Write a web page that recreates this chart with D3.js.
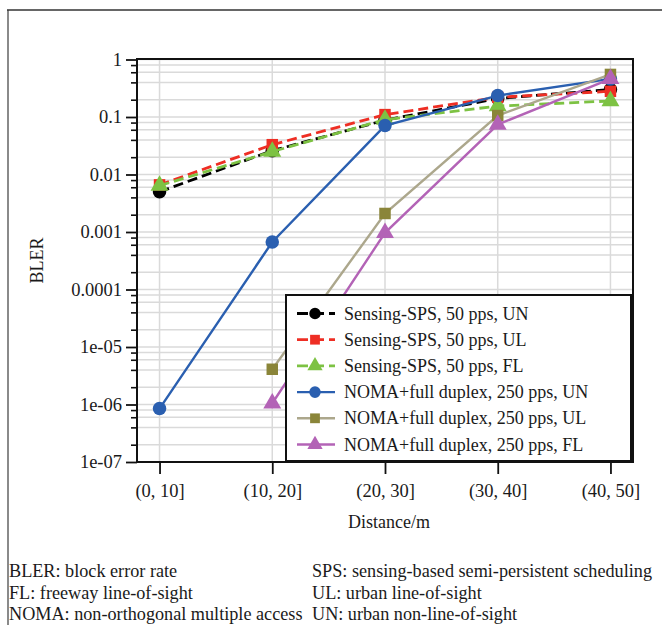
<!DOCTYPE html>
<html>
<head>
<meta charset="utf-8">
<script src="https://cdn.jsdelivr.net/npm/d3@7"></script>
</head>
<body style="margin:0;background:#fff">
<svg id="svgx" width="662" height="625"></svg>
<script>
// ---------------- data
const categories = ["(0, 10]", "(10, 20]", "(20, 30]", "(30, 40]", "(40, 50]"];
const yTickValues = [1, 0.1, 0.01, 0.001, 0.0001, 1e-5, 1e-6, 1e-7];
const yTickLabels = ["1", "0.1", "0.01", "0.001", "0.0001", "1e-05", "1e-06", "1e-07"];

const seriesNames = [
  "Sensing-SPS, 50 pps, UN",
  "Sensing-SPS, 50 pps, UL",
  "Sensing-SPS, 50 pps, FL",
  "NOMA+full duplex, 250 pps, UN",
  "NOMA+full duplex, 250 pps, UL",
  "NOMA+full duplex, 250 pps, FL"
];
// null = no point for that distance
const spsUN  = [0.0050, 0.026, 0.088, 0.21, 0.30];
const spsUL  = [0.0066, 0.033, 0.11, 0.22, 0.28];
const spsFL  = [0.0064, 0.025, 0.09, 0.155, 0.19];
const nomaUN = [8.5e-7, 0.00067, 0.071, 0.236, 0.46];
const nomaUL = [null, 4.1e-6, 0.0021, 0.106, 0.55];
const nomaFL = [null, 1.05e-6, 0.00097, 0.074, 0.46];

const footnotes = [
  ["BLER: block error rate", "SPS: sensing-based semi-persistent scheduling"],
  ["FL: freeway line-of-sight", "UL: urban line-of-sight"],
  ["NOMA: non-orthogonal multiple access", "UN: urban non-line-of-sight"]
];

// ---------------- styles per series
const styles = [
  { line: "#000000", fill: "#000000", dash: "10,5", sym: "c", w: 2.8 },
  { line: "#ee2e24", fill: "#ee2e24", dash: "10,5", sym: "s", w: 2.8 },
  { line: "#7dc243", fill: "#7dc243", dash: "10,5", sym: "t", w: 2.8 },
  { line: "#2a5fb0", fill: "#2a5fb0", dash: null,   sym: "c", w: 2.4 },
  { line: "#aca78c", fill: "#8a8539", dash: null,   sym: "s", w: 2.4 },
  { line: "#b363b6", fill: "#b363b6", dash: null,   sym: "t", w: 2.4 }
];
const allSeries = [spsUN, spsUL, spsFL, nomaUN, nomaUL, nomaFL].map((vals, i) => ({
  name: seriesNames[i],
  style: styles[i],
  values: vals.map((v, j) => ({ cat: categories[j], v: v })).filter(d => d.v != null)
}));

// ---------------- layout
const plot = { left: 137, right: 633, top: 59, bottom: 462 };
const fontsize = 18;
const FONT = '"Liberation Serif", "Times New Roman", serif';
const txtColor = "#1a1a1a";

const svg = d3.select("#svgx");

// outer frame (left + top only visible)
svg.append("line").attr("x1", 8).attr("x2", 8).attr("y1", 10).attr("y2", 625)
  .attr("stroke", "#8a8a8a").attr("stroke-width", 2);
svg.append("line").attr("x1", 7).attr("x2", 662).attr("y1", 10).attr("y2", 10)
  .attr("stroke", "#333").attr("stroke-width", 1.5);

const xScale = d3.scalePoint().domain(categories).range([plot.left, plot.right]).padding(0.2);
const yScale = d3.scaleLog().domain([1e-7, 1]).range([plot.bottom, plot.top + 0.5]);

// minor values: 2,4,6,8 of every decade
const minorVals = [];
for (let e = -7; e < 0; e++) {
  [2, 4, 6, 8].forEach(m => minorVals.push(m * Math.pow(10, e)));
}

// ---------------- grid
const grid = svg.append("g").attr("class", "grid");
grid.selectAll(".hgrid").data(yTickValues.concat(minorVals)).enter()
  .append("line")
  .attr("x1", plot.left).attr("x2", plot.right)
  .attr("y1", d => yScale(d)).attr("y2", d => yScale(d))
  .attr("stroke", "#dadada").attr("stroke-width", 1.5);
grid.selectAll(".vgrid").data(categories).enter()
  .append("line")
  .attr("x1", d => xScale(d)).attr("x2", d => xScale(d))
  .attr("y1", plot.top).attr("y2", plot.bottom)
  .attr("stroke", "#dadada").attr("stroke-width", 1.5);

// ---------------- axes
const yAxis = d3.axisLeft(yScale).tickValues(yTickValues)
  .tickFormat((d, i) => yTickLabels[i]).tickSize(11).tickPadding(4);
const yAxisG = svg.append("g").attr("transform", `translate(${plot.left},0)`).call(yAxis)
  .attr("font-family", null).attr("font-size", null);
yAxisG.select(".domain").remove();
yAxisG.selectAll("line").attr("stroke", "#111").attr("stroke-width", 1.8);
yAxisG.selectAll("text").style("font-size", "18.5px")
  .style("font-family", FONT).attr("fill", txtColor);

const yMinor = d3.axisLeft(yScale).tickValues(minorVals).tickFormat("").tickSize(6);
const yMinorG = svg.append("g").attr("transform", `translate(${plot.left},0)`).call(yMinor);
yMinorG.select(".domain").remove();
yMinorG.selectAll("line").attr("stroke", "#111").attr("stroke-width", 1.6);

const xAxis = d3.axisBottom(xScale).tickSize(12).tickPadding(10);
const xAxisG = svg.append("g").attr("transform", `translate(0,${plot.bottom})`).call(xAxis)
  .attr("font-family", null).attr("font-size", null);
xAxisG.select(".domain").remove();
xAxisG.selectAll("line").attr("stroke", "#111").attr("stroke-width", 1.8);
xAxisG.selectAll("text").style("font-size", "18.5px")
  .style("font-family", FONT).attr("fill", txtColor);

// ---------------- symbols
const symPath = (sym, s) => {
  if (sym === "s") return d3.symbol(d3.symbolSquare, s * s)();
  if (sym === "t") return d3.symbol(d3.symbolTriangle, s * s * 0.62)();
  return d3.symbol(d3.symbolCircle, Math.PI * (s / 2) * (s / 2))();
};
const markSize = { c: 13.5, s: 11.5, t: 15 };

// ---------------- lines + markers
const line = d3.line().x(d => xScale(d.cat)).y(d => yScale(d.v));

const seriesG = svg.append("g");
allSeries.forEach(s => {
  const g = seriesG.append("g");
  g.append("path")
    .attr("d", line(s.values))
    .attr("fill", "none")
    .attr("stroke", s.style.line)
    .attr("stroke-width", s.style.w)
    .attr("stroke-dasharray", s.style.dash);
  g.selectAll("path.mark").data(s.values).enter()
    .append("path")
    .attr("class", "mark")
    .attr("d", symPath(s.style.sym, markSize[s.style.sym]))
    .attr("transform", d => `translate(${xScale(d.cat)},${yScale(d.v)})`)
    .attr("fill", s.style.fill);
});

// ---------------- plot border
svg.append("rect")
  .attr("x", plot.left).attr("y", plot.top)
  .attr("width", plot.right - plot.left).attr("height", plot.bottom - plot.top)
  .attr("fill", "none").attr("stroke", "#111").attr("stroke-width", 2);

// ---------------- legend
const lg = { x: 286, y: 295, w: 345, h: 166, row0: 313.5, step: 26.2 };
const legend = svg.append("g").attr("class", "legend");
legend.append("rect")
  .attr("x", lg.x).attr("y", lg.y).attr("width", lg.w).attr("height", lg.h)
  .attr("fill", "#fff").attr("stroke", "#111").attr("stroke-width", 2);
const items = legend.selectAll("g.item").data(allSeries).enter()
  .append("g").attr("class", "item")
  .attr("transform", (d, i) => `translate(0,${lg.row0 + i * lg.step})`);
items.append("line")
  .attr("x1", 297).attr("x2", 335).attr("y1", 0).attr("y2", 0)
  .attr("stroke", d => d.style.line)
  .attr("stroke-width", d => d.style.w)
  .attr("stroke-dasharray", d => d.style.dash ? "11,5" : null);
items.append("path")
  .attr("d", d => symPath(d.style.sym, markSize[d.style.sym] * 0.85))
  .attr("transform", "translate(315,0)")
  .attr("fill", d => d.style.fill);
items.append("text")
  .attr("x", 344).attr("y", 6)
  .style("font-family", FONT)
  .style("font-size", fontsize + "px")
  .attr("fill", txtColor)
  .text(d => d.name);

// ---------------- axis titles
svg.append("text")
  .attr("transform", `translate(43,${(plot.top + plot.bottom) / 2}) rotate(-90)`)
  .attr("text-anchor", "middle")
  .style("font-family", FONT)
  .style("font-size", "18px")
  .attr("fill", txtColor)
  .text("BLER");
svg.append("text")
  .attr("x", 389).attr("y", 528)
  .attr("text-anchor", "middle")
  .style("font-family", FONT)
  .style("font-size", "18px")
  .attr("fill", txtColor)
  .text("Distance/m");

// ---------------- footnotes
const fn = svg.append("g").attr("class", "footnotes");
footnotes.forEach((row, i) => {
  fn.append("text").attr("x", 9).attr("y", 577 + i * 21.5)
    .style("font-family", FONT).style("font-size", "18.2px")
    .attr("fill", txtColor).text(row[0]);
  fn.append("text").attr("x", 312).attr("y", 577 + i * 21.5)
    .style("font-family", FONT).style("font-size", "18.2px")
    .attr("fill", txtColor).text(row[1]);
});
</script>
</body>
</html>
